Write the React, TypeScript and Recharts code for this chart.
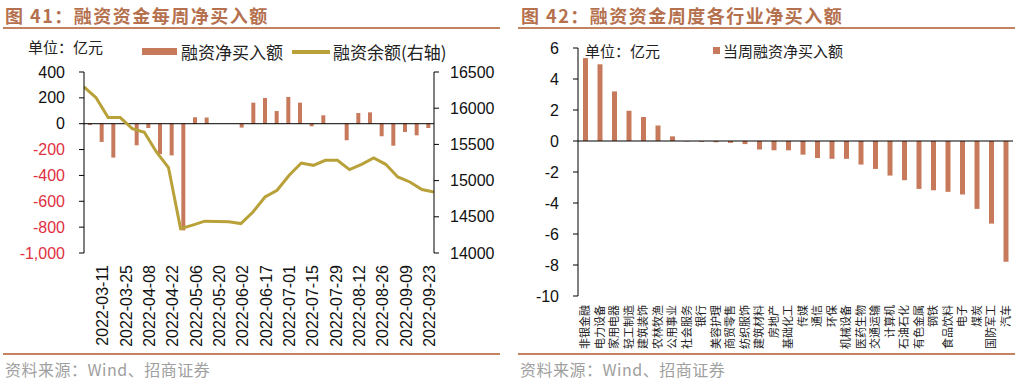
import React from 'react';
import { ComposedChart, BarChart, Bar, Line, XAxis, YAxis, ReferenceLine } from 'recharts';

// ---------- Chart 41 data ----------
const weekDates = [
  '2022-03-04', '2022-03-11', '2022-03-18', '2022-03-25', '2022-04-01', '2022-04-08',
  '2022-04-15', '2022-04-22', '2022-04-29', '2022-05-06', '2022-05-13', '2022-05-20',
  '2022-05-27', '2022-06-02', '2022-06-10', '2022-06-17', '2022-06-24', '2022-07-01',
  '2022-07-08', '2022-07-15', '2022-07-22', '2022-07-29', '2022-08-05', '2022-08-12',
  '2022-08-19', '2022-08-26', '2022-09-02', '2022-09-09', '2022-09-16', '2022-09-23',
];
const tickDates = [
  '2022-03-11', '2022-03-25', '2022-04-08', '2022-04-22', '2022-05-06', '2022-05-20',
  '2022-06-02', '2022-06-17', '2022-07-01', '2022-07-15', '2022-07-29', '2022-08-12',
  '2022-08-26', '2022-09-09', '2022-09-23',
];
const netBuy = [
  -10, -141, -262, 3, -167, -33, -235, -245, -825, 50, 48, 0, 0, -30, 163,
  199, 98, 207, 163, -20, 65, 0, -128, 83, 88, -97, -170, -64, -90, -33,
];
const balance = [
  16293, 16146, 15870, 15870, 15718, 15668, 15395, 15180, 14337, 14385, 14440, 14435,
  14432, 14406, 14566, 14773, 14866, 15073, 15243, 15211, 15280, 15280, 15152, 15225,
  15312, 15225, 15050, 14981, 14876, 14843,
];
const leftTicks = [-1000, -800, -600, -400, -200, 0, 200, 400];
const rightTicks = [14000, 14500, 15000, 15500, 16000, 16500];

// ---------- Chart 42 data ----------
const industries = [
  '非银金融', '电力设备', '家用电器', '轻工制造', '建筑装饰', '农林牧渔', '公用事业', '社会服务',
  '银行', '美容护理', '商贸零售', '纺织服饰', '建筑材料', '房地产', '基础化工', '传媒', '通信',
  '环保', '机械设备', '医药生物', '交通运输', '计算机', '石油石化', '有色金属', '钢铁', '食品饮料',
  '电子', '煤炭', '国防军工', '汽车',
];
const industryNetBuy = [
  5.35, 4.95, 3.2, 1.95, 1.55, 1.0, 0.3, -0.03, -0.05, -0.08, -0.12, -0.2, -0.55, -0.6,
  -0.6, -0.88, -1.1, -1.15, -1.15, -1.52, -1.8, -2.23, -2.53, -3.09, -3.18, -3.28, -3.45,
  -4.38, -5.33, -7.79,
];
const industryTicks = [-10, -8, -6, -4, -2, 0, 2, 4, 6];

const BAR = '#C77A5B';
const LINE = '#B9A13A';
const TITLE = '#B5704E';
const RULE = '#C3835F';
const NUM_FONT = '"Liberation Sans", Arial, sans-serif';
const CJK_FONT = '"Noto Sans CJK SC", "Noto Sans", sans-serif';

const weekData = weekDates.map((d, i) => ({ date: d, idx: i, net: netBuy[i], bal: balance[i] }));
const industryData = industries.map((n, i) => ({ name: n, v: industryNetBuy[i] }));

const fmt = (v: number) => v.toLocaleString('en-US');

const LeftTick = (props: any) => {
  const { x, y, payload } = props;
  const v = payload.value as number;
  return (
    <text x={x} y={y} dy="0.35em" textAnchor="end" fontSize={16} fontFamily={NUM_FONT}
      fill={v < 0 ? '#E0303F' : '#111'}>{fmt(v)}</text>
  );
};
const RightTick = (props: any) => {
  const { x, y, payload } = props;
  return (
    <text x={x} y={y} dy="0.35em" textAnchor="start" fontSize={16} fontFamily={NUM_FONT} fill="#111">
      {payload.value}
    </text>
  );
};
const DateTick = (props: any) => {
  const { x, y, payload } = props;
  if (!tickDates.includes(payload.value)) return <g />;
  return (
    <text transform={`translate(${x + 1},${y + 12}) rotate(-90)`} textAnchor="end" dy="0.36em"
      fontSize={16} fontFamily={NUM_FONT} fill="#111">{payload.value}</text>
  );
};
const IndYTick = (props: any) => {
  const { x, y, payload } = props;
  return (
    <text x={x} y={y} dy="0.35em" textAnchor="end" fontSize={16} fontFamily={NUM_FONT} fill="#111">
      {payload.value}
    </text>
  );
};
const IndXTick = (props: any) => {
  const { x, y, payload } = props;
  return (
    <text transform={`translate(${x},${y + 9}) rotate(-90)`} textAnchor="end" dy="0.36em"
      fontSize={11} fontFamily={CJK_FONT} fill="#222">{payload.value}</text>
  );
};

const Txt = ({ left, top, size, color = '#222', font = CJK_FONT, weight = 400, spacing = 0, children }: any) => (
  <div style={{
    position: 'absolute', left, top, fontSize: size, lineHeight: `${size + 2}px`, color,
    fontFamily: font, fontWeight: weight, whiteSpace: 'nowrap', letterSpacing: spacing,
  }}>{children}</div>
);
const Box = ({ left, top, width, height, color }: any) => (
  <div style={{ position: 'absolute', left, top, width, height, background: color }} />
);

export default function App() {
  return (
    <div style={{ position: 'absolute', left: 0, top: 0, width: 1023, height: 384, background: '#fff', overflow: 'hidden' }}>
      {/* Titles & rules */}
      <Txt left={5} top={5} size={18} color={TITLE} weight={700} spacing={1.5}>图 41：融资资金每周净买入额</Txt>
      <Txt left={521} top={5} size={18} color={TITLE} weight={700} spacing={1.5}>图 42：融资资金周度各行业净买入额</Txt>
      <Box left={3} top={27} width={497} height={2} color={RULE} />
      <Box left={518} top={27} width={497} height={2} color={RULE} />
      <Box left={3} top={353} width={497} height={2} color={RULE} />
      <Box left={518} top={353} width={497} height={2} color={RULE} />
      <Txt left={5} top={360} size={16} color="#A0A0A0" spacing={0.5}>资料来源：Wind、招商证券</Txt>
      <Txt left={520} top={360} size={16} color="#A0A0A0" spacing={0.5}>资料来源：Wind、招商证券</Txt>

      {/* Chart 41 */}
      <div style={{ position: 'absolute', left: 0, top: 0 }}>
        <ComposedChart width={500} height={384} data={weekData} margin={{ top: 72, right: 0, bottom: 31, left: 0 }}>
          <XAxis xAxisId="cat" dataKey="date" type="category" interval={0} height={100}
            axisLine={false} tickLine={false} tickSize={0} tickMargin={0} tick={<DateTick />} />
          <XAxis xAxisId="idx" dataKey="idx" type="number" domain={[0, 29]} hide allowDataOverflow />
          <YAxis yAxisId="left" orientation="left" width={84} domain={[-1000, 400]} ticks={leftTicks}
            interval={0} allowDataOverflow axisLine={{ stroke: '#000' }} tickLine={{ stroke: '#000' }}
            tickSize={5} tickMargin={14} tick={<LeftTick />} />
          <YAxis yAxisId="right" orientation="right" width={66} domain={[14000, 16500]} ticks={rightTicks}
            interval={0} allowDataOverflow axisLine={{ stroke: '#000' }} tickLine={{ stroke: '#000' }}
            tickSize={5} tickMargin={11} tick={<RightTick />} />
          <Bar xAxisId="cat" yAxisId="left" dataKey="net" fill={BAR} barSize={4} isAnimationActive={false} />
          <ReferenceLine xAxisId="cat" yAxisId="left" y={0} stroke="#000" strokeWidth={1} />
          <Line xAxisId="idx" yAxisId="right" dataKey="bal" type="linear" stroke={LINE} strokeWidth={3}
            dot={false} activeDot={false} isAnimationActive={false} />
        </ComposedChart>
      </div>
      <Txt left={28} top={38} size={15}>单位：亿元</Txt>
      <Box left={142} top={48} width={35} height={7} color={BAR} />
      <Txt left={181} top={42} size={17}>融资净买入额</Txt>
      <Box left={292} top={50} width={38} height={3.5} color={LINE} />
      <Txt left={333} top={42} size={17}>融资余额(右轴)</Txt>

      {/* Chart 42 */}
      <div style={{ position: 'absolute', left: 518, top: 0 }}>
        <BarChart width={505} height={384} data={industryData} margin={{ top: 48, right: 10, bottom: 0, left: 0 }}>
          <XAxis dataKey="name" type="category" interval={0} height={88} axisLine={false} tickLine={false}
            tickSize={0} tickMargin={0} tick={<IndXTick />} />
          <YAxis width={60} domain={[-10, 6]} ticks={industryTicks} interval={0} allowDataOverflow
            axisLine={{ stroke: '#000' }} tickLine={{ stroke: '#000' }} tickSize={5} tickMargin={14}
            tick={<IndYTick />} />
          <Bar dataKey="v" fill={BAR} barSize={5} isAnimationActive={false} />
          <ReferenceLine y={0} stroke="#000" strokeWidth={1} />
        </BarChart>
      </div>
      <Txt left={585} top={42} size={15}>单位：亿元</Txt>
      <Box left={713} top={47} width={7} height={7} color={BAR} />
      <Txt left={723} top={42} size={15}>当周融资净买入额</Txt>
    </div>
  );
}
